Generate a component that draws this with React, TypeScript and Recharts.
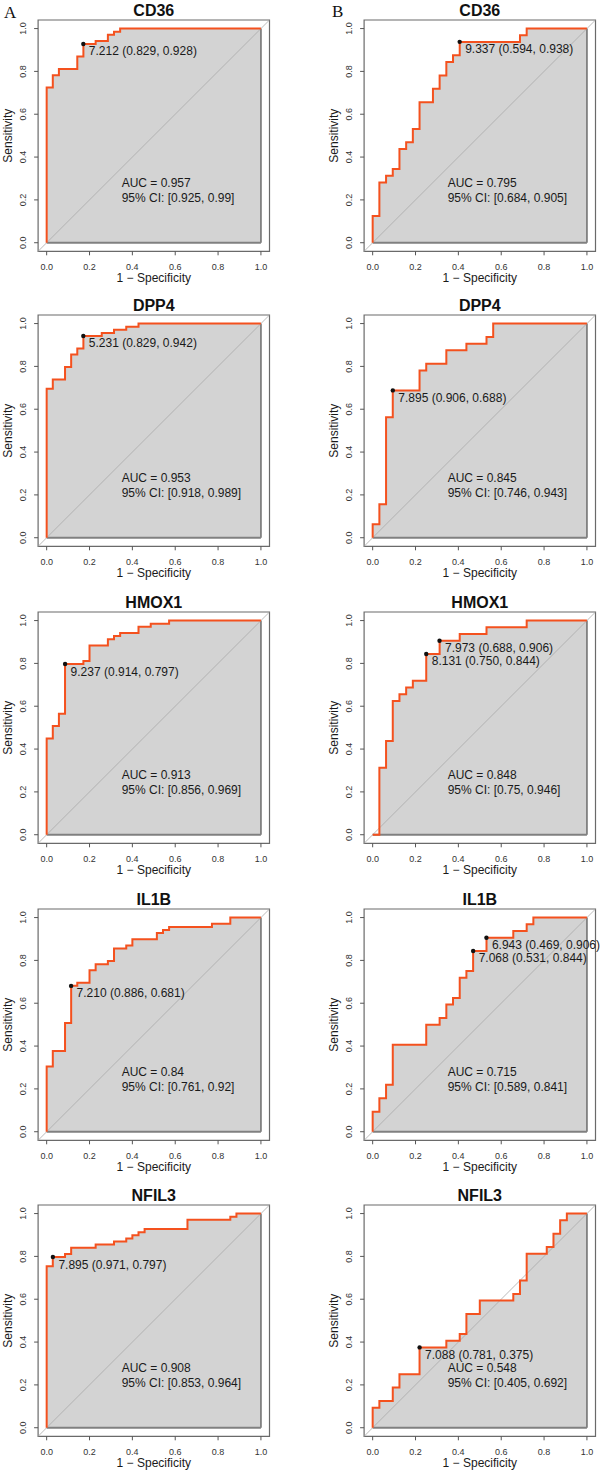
import React from 'react';
import {
  ComposedChart,
  Area,
  Line,
  Scatter,
  XAxis,
  YAxis,
  ReferenceLine,
  ReferenceArea,
} from 'recharts';

type Corner = [number, number];
type Threshold = { threshold: number; specificity: number; sensitivity: number };

// Gene names, one row of panels per gene
const genes = ['CD36', 'DPP4', 'HMOX1', 'IL1B', 'NFIL3'];

// ROC step corners as (1 − specificity, sensitivity), cohort A
const cd36A: Corner[] = [
  [0, 0.7246], [0.0286, 0.7826], [0.0571, 0.8116], [0.1429, 0.8696], [0.1714, 0.9275],
  [0.2286, 0.942], [0.2857, 0.971], [0.3143, 0.9855], [0.3429, 1],
];
const dpp4A: Corner[] = [
  [0, 0.6957], [0.0286, 0.7391], [0.0857, 0.7971], [0.1143, 0.8551], [0.1429, 0.8841],
  [0.1714, 0.942], [0.2571, 0.9565], [0.3143, 0.971], [0.3714, 0.9855], [0.4286, 1],
];
const hmox1A: Corner[] = [
  [0, 0.4493], [0.0286, 0.5072], [0.0571, 0.5652], [0.0857, 0.7971], [0.1714, 0.8116],
  [0.2, 0.8841], [0.2857, 0.913], [0.3143, 0.9275], [0.3429, 0.942], [0.4286, 0.971],
  [0.4857, 0.9855], [0.5714, 1],
];
const il1bA: Corner[] = [
  [0, 0.3043], [0.0286, 0.3768], [0.0857, 0.5072], [0.1143, 0.6812], [0.1429, 0.6957],
  [0.2, 0.7536], [0.2286, 0.7826], [0.2857, 0.7971], [0.3143, 0.8551], [0.3714, 0.8696],
  [0.4, 0.8986], [0.5143, 0.9275], [0.5429, 0.942], [0.5714, 0.9565], [0.7714, 0.971],
  [0.8571, 1],
];
const nfil3A: Corner[] = [
  [0, 0.7536], [0.0286, 0.7971], [0.0857, 0.8116], [0.1143, 0.8406], [0.2286, 0.8551],
  [0.3143, 0.8696], [0.3714, 0.8841], [0.4, 0.8986], [0.4286, 0.913], [0.4571, 0.9275],
  [0.6571, 0.971], [0.8571, 0.9855], [0.8857, 1],
];

// ROC step corners, cohort B
const cd36B: Corner[] = [
  [0, 0.125], [0.0313, 0.2813], [0.0625, 0.3125], [0.0938, 0.3438], [0.125, 0.4375],
  [0.1563, 0.4688], [0.1875, 0.5313], [0.2188, 0.6563], [0.2813, 0.7188], [0.3125, 0.7813],
  [0.3438, 0.8438], [0.375, 0.875], [0.4063, 0.9375], [0.6875, 0.9688], [0.7188, 1],
];
const dpp4B: Corner[] = [
  [0, 0.0625], [0.0313, 0.1563], [0.0625, 0.5625], [0.0938, 0.6875], [0.2188, 0.7813],
  [0.25, 0.8125], [0.3438, 0.875], [0.4375, 0.9063], [0.5313, 0.9375], [0.5625, 1],
];
const hmox1B: Corner[] = [
  [0.0313, 0.3125], [0.0625, 0.4375], [0.0938, 0.625], [0.125, 0.6563], [0.1563, 0.6875],
  [0.1875, 0.7188], [0.25, 0.8438], [0.3125, 0.9063], [0.4063, 0.9375], [0.5313, 0.9688],
  [0.7188, 1],
];
const il1bB: Corner[] = [
  [0, 0.0938], [0.0313, 0.1563], [0.0625, 0.2188], [0.0938, 0.4063], [0.25, 0.5],
  [0.3125, 0.5313], [0.3438, 0.5938], [0.375, 0.625], [0.4063, 0.7188], [0.4375, 0.75],
  [0.4688, 0.8438], [0.5313, 0.9063], [0.6563, 0.9375], [0.7188, 0.9688], [0.75, 1],
];
const nfil3B: Corner[] = [
  [0, 0.0938], [0.0313, 0.125], [0.0938, 0.1875], [0.125, 0.25], [0.2188, 0.375],
  [0.3438, 0.4063], [0.4063, 0.4375], [0.4375, 0.5313], [0.5, 0.5938], [0.6563, 0.625],
  [0.6875, 0.6875], [0.7188, 0.8125], [0.8125, 0.8438], [0.8438, 0.9063], [0.875, 0.9688],
  [0.9063, 1],
];

const curvesA = [cd36A, dpp4A, hmox1A, il1bA, nfil3A];
const curvesB = [cd36B, dpp4B, hmox1B, il1bB, nfil3B];

// AUC with 95% confidence interval
const aucA = [0.957, 0.953, 0.913, 0.84, 0.908];
const ciA: [number, number][] = [[0.925, 0.99], [0.918, 0.989], [0.856, 0.969], [0.761, 0.92], [0.853, 0.964]];
const aucB = [0.795, 0.845, 0.848, 0.715, 0.548];
const ciB: [number, number][] = [[0.684, 0.905], [0.746, 0.943], [0.75, 0.946], [0.589, 0.841], [0.405, 0.692]];

// Best thresholds (threshold, specificity, sensitivity)
const thresholdsA: Threshold[][] = [
  [{ threshold: 7.212, specificity: 0.829, sensitivity: 0.928 }],
  [{ threshold: 5.231, specificity: 0.829, sensitivity: 0.942 }],
  [{ threshold: 9.237, specificity: 0.914, sensitivity: 0.797 }],
  [{ threshold: 7.21, specificity: 0.886, sensitivity: 0.681 }],
  [{ threshold: 7.895, specificity: 0.971, sensitivity: 0.797 }],
];
const thresholdsB: Threshold[][] = [
  [{ threshold: 9.337, specificity: 0.594, sensitivity: 0.938 }],
  [{ threshold: 7.895, specificity: 0.906, sensitivity: 0.688 }],
  [
    { threshold: 7.973, specificity: 0.688, sensitivity: 0.906 },
    { threshold: 8.131, specificity: 0.75, sensitivity: 0.844 },
  ],
  [
    { threshold: 6.943, specificity: 0.469, sensitivity: 0.906 },
    { threshold: 7.068, specificity: 0.531, sensitivity: 0.844 },
  ],
  [{ threshold: 7.088, specificity: 0.781, sensitivity: 0.375 }],
];

const axisTicks = [0, 0.2, 0.4, 0.6, 0.8, 1];
const panelLetters = ['A', 'B'];

// Layout
const SANS = '"Liberation Sans", Arial, Helvetica, sans-serif';
const SERIF = '"Liberation Serif", "Times New Roman", serif';
const ORANGE = '#f4511e';
const FILL = '#d3d3d3';
const FRAME = '#6a6a6a';
const CHART_W = 300;
const CHART_H = 290;
const PLOT_W = 231.4;
const PLOT_H = 231.3;
const Y_AXIS_W = 38.1;
const MARGIN_TOP = 20;
const X_AXIS_H = CHART_H - MARGIN_TOP - PLOT_H;
const DOMAIN: [number, number] = [-0.04, 1.04];
const COLUMNS = [
  { left: 0, marginLeft: 0 },
  { left: 300, marginLeft: 26 },
];
const ROW_TOPS = [0.2, 295.4, 592.1, 889.1, 1184.7];
const AUC_ANCHOR = { x: 0.35, y: 0.262 };

type Pt = { x: number; y: number };

// Expand the corner list into a staircase path starting at (0,0) and ending at (1,1)
function staircase(corners: Corner[]): Pt[] {
  const pts: Pt[] = [{ x: 0, y: 0 }];
  let prevY = 0;
  for (const [fx, ty] of corners) {
    const last = pts[pts.length - 1];
    if (!(last.x === fx && last.y === prevY)) pts.push({ x: fx, y: prevY });
    pts.push({ x: fx, y: ty });
    prevY = ty;
  }
  pts.push({ x: 1, y: prevY });
  return pts;
}

const XTick = (p: any) => (
  <text
    x={p.x}
    y={p.y + 12.3}
    textAnchor="middle"
    fontSize={9}
    fontFamily={SANS}
    fill="#333"
  >
    {Number(p.payload.value).toFixed(1)}
  </text>
);

const YTick = (p: any) => {
  const cx = p.x - 9;
  const cy = p.y;
  return (
    <text
      x={cx}
      y={cy}
      transform={`rotate(-90 ${cx} ${cy})`}
      textAnchor="middle"
      dominantBaseline="central"
      fontSize={9}
      fontFamily={SANS}
      fill="#333"
    >
      {Number(p.payload.value).toFixed(1)}
    </text>
  );
};

const XTitle = (p: any) => {
  const vb = p.viewBox;
  return (
    <text
      x={vb.x + vb.width / 2}
      y={vb.y + 31}
      textAnchor="middle"
      fontSize={12}
      fontFamily={SANS}
      fill="#1a1a1a"
    >
      1 − Specificity
    </text>
  );
};

const YTitle = (p: any) => {
  const vb = p.viewBox;
  const cx = vb.x + vb.width - 29.8;
  const cy = vb.y + vb.height / 2;
  return (
    <text
      x={cx}
      y={cy}
      transform={`rotate(-90 ${cx} ${cy})`}
      textAnchor="middle"
      dominantBaseline="central"
      fontSize={12}
      fontFamily={SANS}
      fill="#1a1a1a"
    >
      Sensitivity
    </text>
  );
};

const ThresholdMark = (p: any) => (
  <g>
    <circle cx={p.cx} cy={p.cy} r={2.2} fill="#111" />
    <text x={p.cx + 5.5} y={p.cy + 11.5} fontSize={12} fontFamily={SANS} fill="#1a1a1a">
      {p.payload.text}
    </text>
  </g>
);

const AucText = (p: any) => (
  <text fontSize={12} fontFamily={SANS} fill="#1a1a1a">
    <tspan x={p.cx} y={p.cy}>{`AUC = ${p.payload.auc}`}</tspan>
    <tspan x={p.cx} y={p.cy + 15.3}>{`95% CI: [${p.payload.lo}, ${p.payload.hi}]`}</tspan>
  </text>
);

type PanelProps = {
  title: string;
  corners: Corner[];
  auc: number;
  ci: [number, number];
  thresholds: Threshold[];
  col: number;
  row: number;
};

function RocPanel({ title, corners, auc, ci, thresholds, col, row }: PanelProps) {
  const curve = staircase(corners);
  const marks = thresholds.map((t) => ({
    x: 1 - t.specificity,
    y: t.sensitivity,
    text: `${t.threshold.toFixed(3)} (${t.specificity.toFixed(3)}, ${t.sensitivity.toFixed(3)})`,
  }));
  const aucLabel = [{ x: AUC_ANCHOR.x, y: AUC_ANCHOR.y, auc, lo: ci[0], hi: ci[1] }];
  const c = COLUMNS[col];
  const marginRight = CHART_W - c.marginLeft - Y_AXIS_W - PLOT_W;

  return (
    <div style={{ position: 'absolute', left: c.left, top: ROW_TOPS[row], width: CHART_W, height: CHART_H }}>
      <ComposedChart
        width={CHART_W}
        height={CHART_H}
        margin={{ top: MARGIN_TOP, right: marginRight, bottom: 0, left: c.marginLeft }}
      >
        <XAxis
          type="number"
          dataKey="x"
          domain={DOMAIN}
          ticks={axisTicks}
          interval={0}
          tickSize={4}
          tickMargin={2}
          axisLine={false}
          tickLine={{ stroke: '#555', strokeWidth: 1 }}
          tick={XTick}
          height={X_AXIS_H}
          label={{ content: XTitle }}
        />
        <YAxis
          type="number"
          dataKey="y"
          domain={DOMAIN}
          ticks={axisTicks}
          interval={0}
          tickSize={4}
          tickMargin={2}
          axisLine={false}
          tickLine={{ stroke: '#555', strokeWidth: 1 }}
          tick={YTick}
          width={Y_AXIS_W}
          label={{ content: YTitle }}
        />
        <Area
          data={curve}
          dataKey="y"
          type="linear"
          baseValue={0}
          fill={FILL}
          fillOpacity={1}
          stroke="none"
          isAnimationActive={false}
          dot={false}
          activeDot={false}
        />
        <ReferenceLine
          segment={[{ x: 0, y: 0 }, { x: 1, y: 0 }]}
          stroke="#808080"
          strokeWidth={1.8}
          ifOverflow="visible"
        />
        <ReferenceLine
          segment={[{ x: 1, y: 0 }, { x: 1, y: 1 }]}
          stroke="#808080"
          strokeWidth={1.8}
          ifOverflow="visible"
        />
        <ReferenceLine
          segment={[{ x: DOMAIN[0], y: DOMAIN[0] }, { x: DOMAIN[1], y: DOMAIN[1] }]}
          stroke="#a9a9a9"
          strokeWidth={0.8}
          ifOverflow="visible"
        />
        <Line
          data={curve}
          dataKey="y"
          type="linear"
          stroke={ORANGE}
          strokeWidth={2}
          dot={false}
          activeDot={false}
          isAnimationActive={false}
        />
        <Scatter data={marks} shape={ThresholdMark} isAnimationActive={false} />
        <Scatter data={aucLabel} shape={AucText} isAnimationActive={false} />
        <ReferenceArea
          x1={DOMAIN[0]}
          x2={DOMAIN[1]}
          y1={DOMAIN[0]}
          y2={DOMAIN[1]}
          fill="none"
          stroke={FRAME}
          strokeWidth={1.2}
          ifOverflow="visible"
          label={{
            value: title,
            position: 'top',
            offset: 4.5,
            fontSize: 16,
            fontWeight: 'bold',
            fontFamily: SANS,
            fill: '#111',
          }}
        />
      </ComposedChart>
    </div>
  );
}

export default function App() {
  return (
    <div
      style={{
        position: 'absolute',
        left: 0,
        top: 0,
        width: 600,
        height: 1475,
        background: '#fff',
        overflow: 'hidden',
      }}
    >
      {genes.map((g, i) => (
        <RocPanel
          key={`A-${g}`}
          title={g}
          corners={curvesA[i]}
          auc={aucA[i]}
          ci={ciA[i]}
          thresholds={thresholdsA[i]}
          col={0}
          row={i}
        />
      ))}
      {genes.map((g, i) => (
        <RocPanel
          key={`B-${g}`}
          title={g}
          corners={curvesB[i]}
          auc={aucB[i]}
          ci={ciB[i]}
          thresholds={thresholdsB[i]}
          col={1}
          row={i}
        />
      ))}
      <svg style={{ position: 'absolute', left: 0, top: 0 }} width={24} height={24}>
        <text x={4} y={18.3} fontSize={17} fontFamily={SERIF} fill="#111">
          {panelLetters[0]}
        </text>
      </svg>
      <svg style={{ position: 'absolute', left: 328, top: 0 }} width={24} height={24}>
        <text x={4} y={16.8} fontSize={17} fontFamily={SERIF} fill="#111">
          {panelLetters[1]}
        </text>
      </svg>
    </div>
  );
}
